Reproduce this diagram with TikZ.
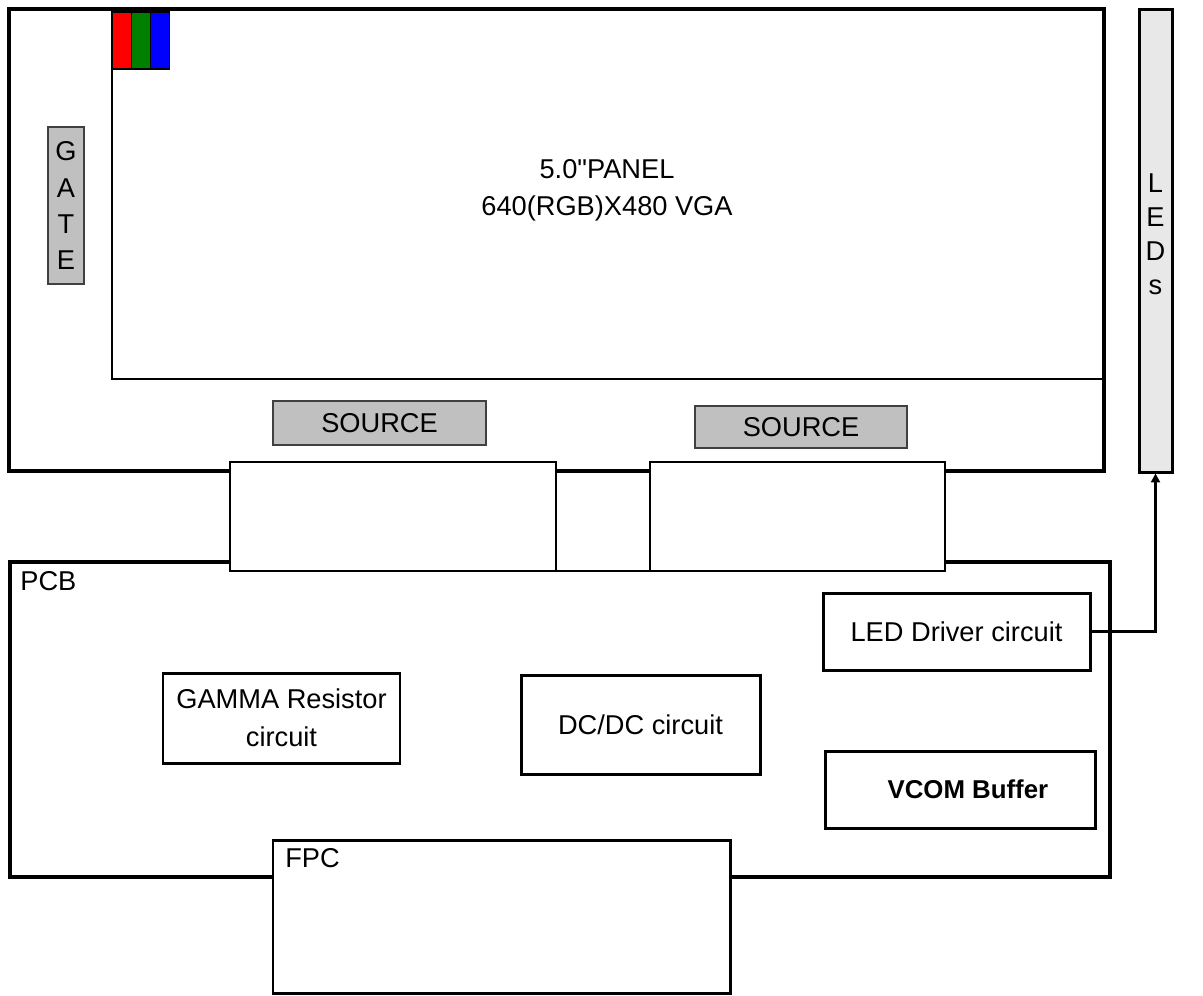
\documentclass[tikz,border=0pt]{standalone}
\usepackage{fontspec}
\setmainfont{Liberation Sans}[Ligatures=TeXOff]
\usetikzlibrary{arrows.meta}
\definecolor{chipgrey}{RGB}{192,192,192}
\definecolor{ledgrey}{RGB}{232,232,232}
\definecolor{subred}{RGB}{255,0,0}
\definecolor{subgreen}{RGB}{0,128,0}
\definecolor{subblue}{RGB}{0,0,255}

\begin{document}
\begin{tikzpicture}[x=0.02cm, y=-0.02cm,
		outline/.style={draw=black, line width=2.2pt},
		thinline/.style={draw=black, line width=1.1pt},
		blockbox/.style={draw=black, line width=1.7pt, fill=white, inner sep=0pt, align=center},
		chipbox/.style={draw=black!75, line width=1.1pt, fill=chipgrey, inner sep=0pt, align=center},
		every node/.style={font=\fontsize{15.5}{21}\selectfont}]
			\def\u{0.02cm}
			\useasboundingbox (0,0) rectangle (1203,995);

			% Panel glass and active area
			\draw[outline] (9,9) rectangle (1104,471);
			\draw[thinline] (112,9) -- (112,379) -- (1104,379);
			\foreach \c [count=\i from 0] in {subred,subgreen,subblue}
				\filldraw[fill=\c, draw=black, line width=0.6pt] ({112+19.3*\i},12) rectangle ({131.3+19.3*\i},69);

			\node[align=center] (panel) at (607,190) {5.0"PANEL\\640(RGB)X480 VGA};

			% Driver ICs on glass
			\node[chipbox, minimum width=36*\u, minimum height=157*\u, font=\fontsize{15.5}{20.5}\selectfont] (gate) at (66,205.5) {G\\A\\T\\E};
			\node[chipbox, minimum width=213*\u, minimum height=44*\u] (srcl) at (379.5,423) {SOURCE};
			\node[chipbox, minimum width=212*\u, minimum height=42*\u] (srcr) at (801,427) {SOURCE};

			% Backlight bar
			\node[draw=black, line width=1.7pt, fill=ledgrey, inner sep=0pt, minimum width=33*\u, minimum height=463*\u, align=center, text depth=7pt, font=\fontsize{15.5}{19.3}\selectfont] (leds) at (1155.5,240.5) {L\\E\\D\\s};

			% PCB
			\draw[outline] (10,562) rectangle (1110,877);
			\node[anchor=west, inner sep=0pt] (pcb) at (20,581) {PCB};

			% Flex between glass and PCB
			\fill[white] (556,474) rectangle (650,570);
			\draw[thinline] (556,571) -- (650,571);
			\node[blockbox, line width=1.1pt, minimum width=326*\u, minimum height=109*\u] (flexl) at (393,516.5) {};
			\node[blockbox, line width=1.1pt, minimum width=295*\u, minimum height=109*\u] (flexr) at (797.5,516.5) {};

			% Circuits on PCB
			\node[blockbox, minimum width=237*\u, minimum height=90*\u, font=\fontsize{15.5}{21.5}\selectfont] (gamma) at (281.5,718) {GAMMA Resistor\\circuit};
			\node[blockbox, minimum width=239*\u, minimum height=99*\u] (dcdc) at (640.5,724.5) {DC/DC circuit};
			\node[blockbox, minimum width=267*\u, minimum height=77*\u] (drv) at (956.5,631.5) {LED Driver circuit};
			\node[blockbox, minimum width=270*\u, minimum height=77*\u, font=\fontsize{14.7}{20}\selectfont\bfseries] (vcom) at (960,789.5) {\hspace*{9pt}VCOM Buffer};

			% FPC tail
			\node[blockbox, minimum width=457*\u, minimum height=153*\u] (fpc) at (501.5,916.5) {};
			\node[anchor=west, inner sep=0pt] (fpclbl) at (285,858) {FPC};

			\draw[line width=1.4pt, -{Triangle[length=5pt, width=5pt]}] (drv.east) -| (leds.south);

		\end{tikzpicture}
\end{document}
